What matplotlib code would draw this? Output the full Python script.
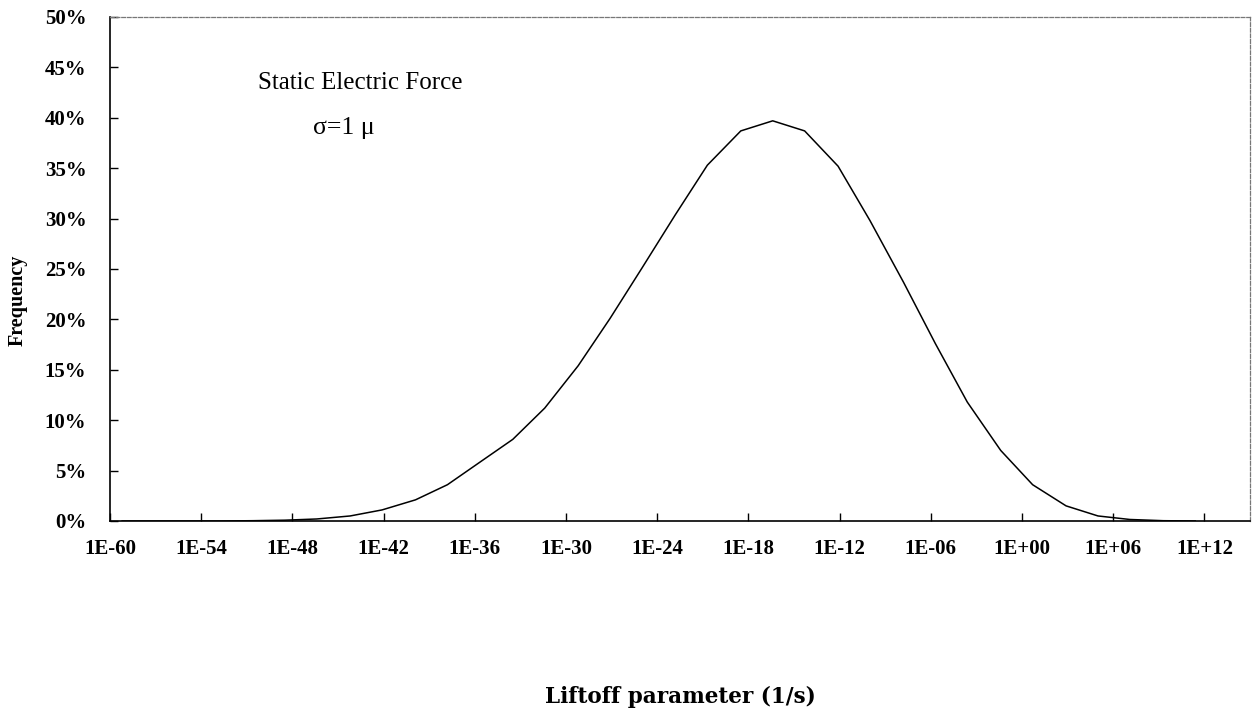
import matplotlib
matplotlib.use("Agg")
import matplotlib.pyplot as plt
from matplotlib.ticker import FixedLocator, FixedFormatter, FuncFormatter

# ---- data ----
log_x = [-59.2, -57.1, -54.9, -52.8, -50.6, -48.5, -46.4, -44.2, -42.1, -39.9,
         -37.8, -35.7, -33.5, -31.4, -29.2, -27.1, -25.0, -22.8, -20.7, -18.5,
         -16.4, -14.3, -12.1, -10.0, -7.8, -5.7, -3.6, -1.4, 0.7, 2.9,
         5.0, 7.1, 9.3, 11.4]
freq_pct = [0.0, 0.0, 0.0, 0.0, 0.03, 0.08, 0.2, 0.5, 1.1, 2.1,
            3.6, 5.8, 8.1, 11.2, 15.4, 20.1, 25.1, 30.4, 35.3, 38.7,
            39.7, 38.7, 35.2, 29.8, 23.7, 17.6, 11.8, 7.0, 3.6, 1.5,
            0.5, 0.15, 0.03, 0.0]
x_tick_exps = [-60, -54, -48, -42, -36, -30, -24, -18, -12, -6, 0, 6, 12]
x_tick_labels = ["1E-60", "1E-54", "1E-48", "1E-42", "1E-36", "1E-30", "1E-24",
                 "1E-18", "1E-12", "1E-06", "1E+00", "1E+06", "1E+12"]
y_ticks = [0, 5, 10, 15, 20, 25, 30, 35, 40, 45, 50]

W, H = 1255, 713
fig = plt.figure(figsize=(W / 100, H / 100), dpi=100)
fig.patch.set_facecolor("white")
serif = ["Liberation Serif", "DejaVu Serif"]

L, R, T, B = 110, 1250, 17, 521
ax = fig.add_axes([L / W, 1 - B / H, (R - L) / W, (B - T) / H])

xs = [10.0 ** e for e in log_x]
ax.plot(xs, freq_pct, color="black", lw=1.1)

ax.set_xscale("log")
ax.set_xlim(1e-60, 1e15)
ax.set_ylim(0, 50)

ax.xaxis.set_major_locator(FixedLocator([10.0 ** e for e in x_tick_exps]))
ax.xaxis.set_major_formatter(FixedFormatter(x_tick_labels))
ax.xaxis.set_minor_locator(FixedLocator([]))
ax.yaxis.set_major_locator(FixedLocator(y_ticks))
ax.yaxis.set_major_formatter(FuncFormatter(lambda v, p: f"{int(v)}%"))

ax.tick_params(axis="both", direction="in", length=6, width=1, color="black")
ax.tick_params(axis="x", pad=13)
ax.tick_params(axis="y", pad=17)
for lab in ax.get_xticklabels() + ax.get_yticklabels():
    lab.set_fontfamily(serif)
    lab.set_fontweight("bold")
    lab.set_fontsize(15)

for s in ["left", "bottom"]:
    ax.spines[s].set_color("black")
    ax.spines[s].set_linewidth(1.2)
for s in ["top", "right"]:
    ax.spines[s].set_color("#777777")
    ax.spines[s].set_linewidth(0.9)
    ax.spines[s].set_linestyle((0, (3, 1.5)))

fig.text(18 / W, 1 - 300 / H, "Frequency", rotation=90, ha="center", va="center",
         fontsize=14.5, fontweight="bold", family=serif)
fig.text(680 / W, 1 - 697 / H, "Liftoff parameter (1/s)", ha="center", va="center",
         fontsize=15.5, fontweight="bold", family=["DejaVu Serif"])

fig.text(258 / W, 1 - 83 / H, "Static Electric Force", ha="left", va="center",
         fontsize=18, family=serif)
fig.text(313 / W, 1 - 128 / H, "σ=1 μ", ha="left", va="center",
         fontsize=18.5, family=serif)

fig.savefig("out.png", dpi=100, facecolor="white")
